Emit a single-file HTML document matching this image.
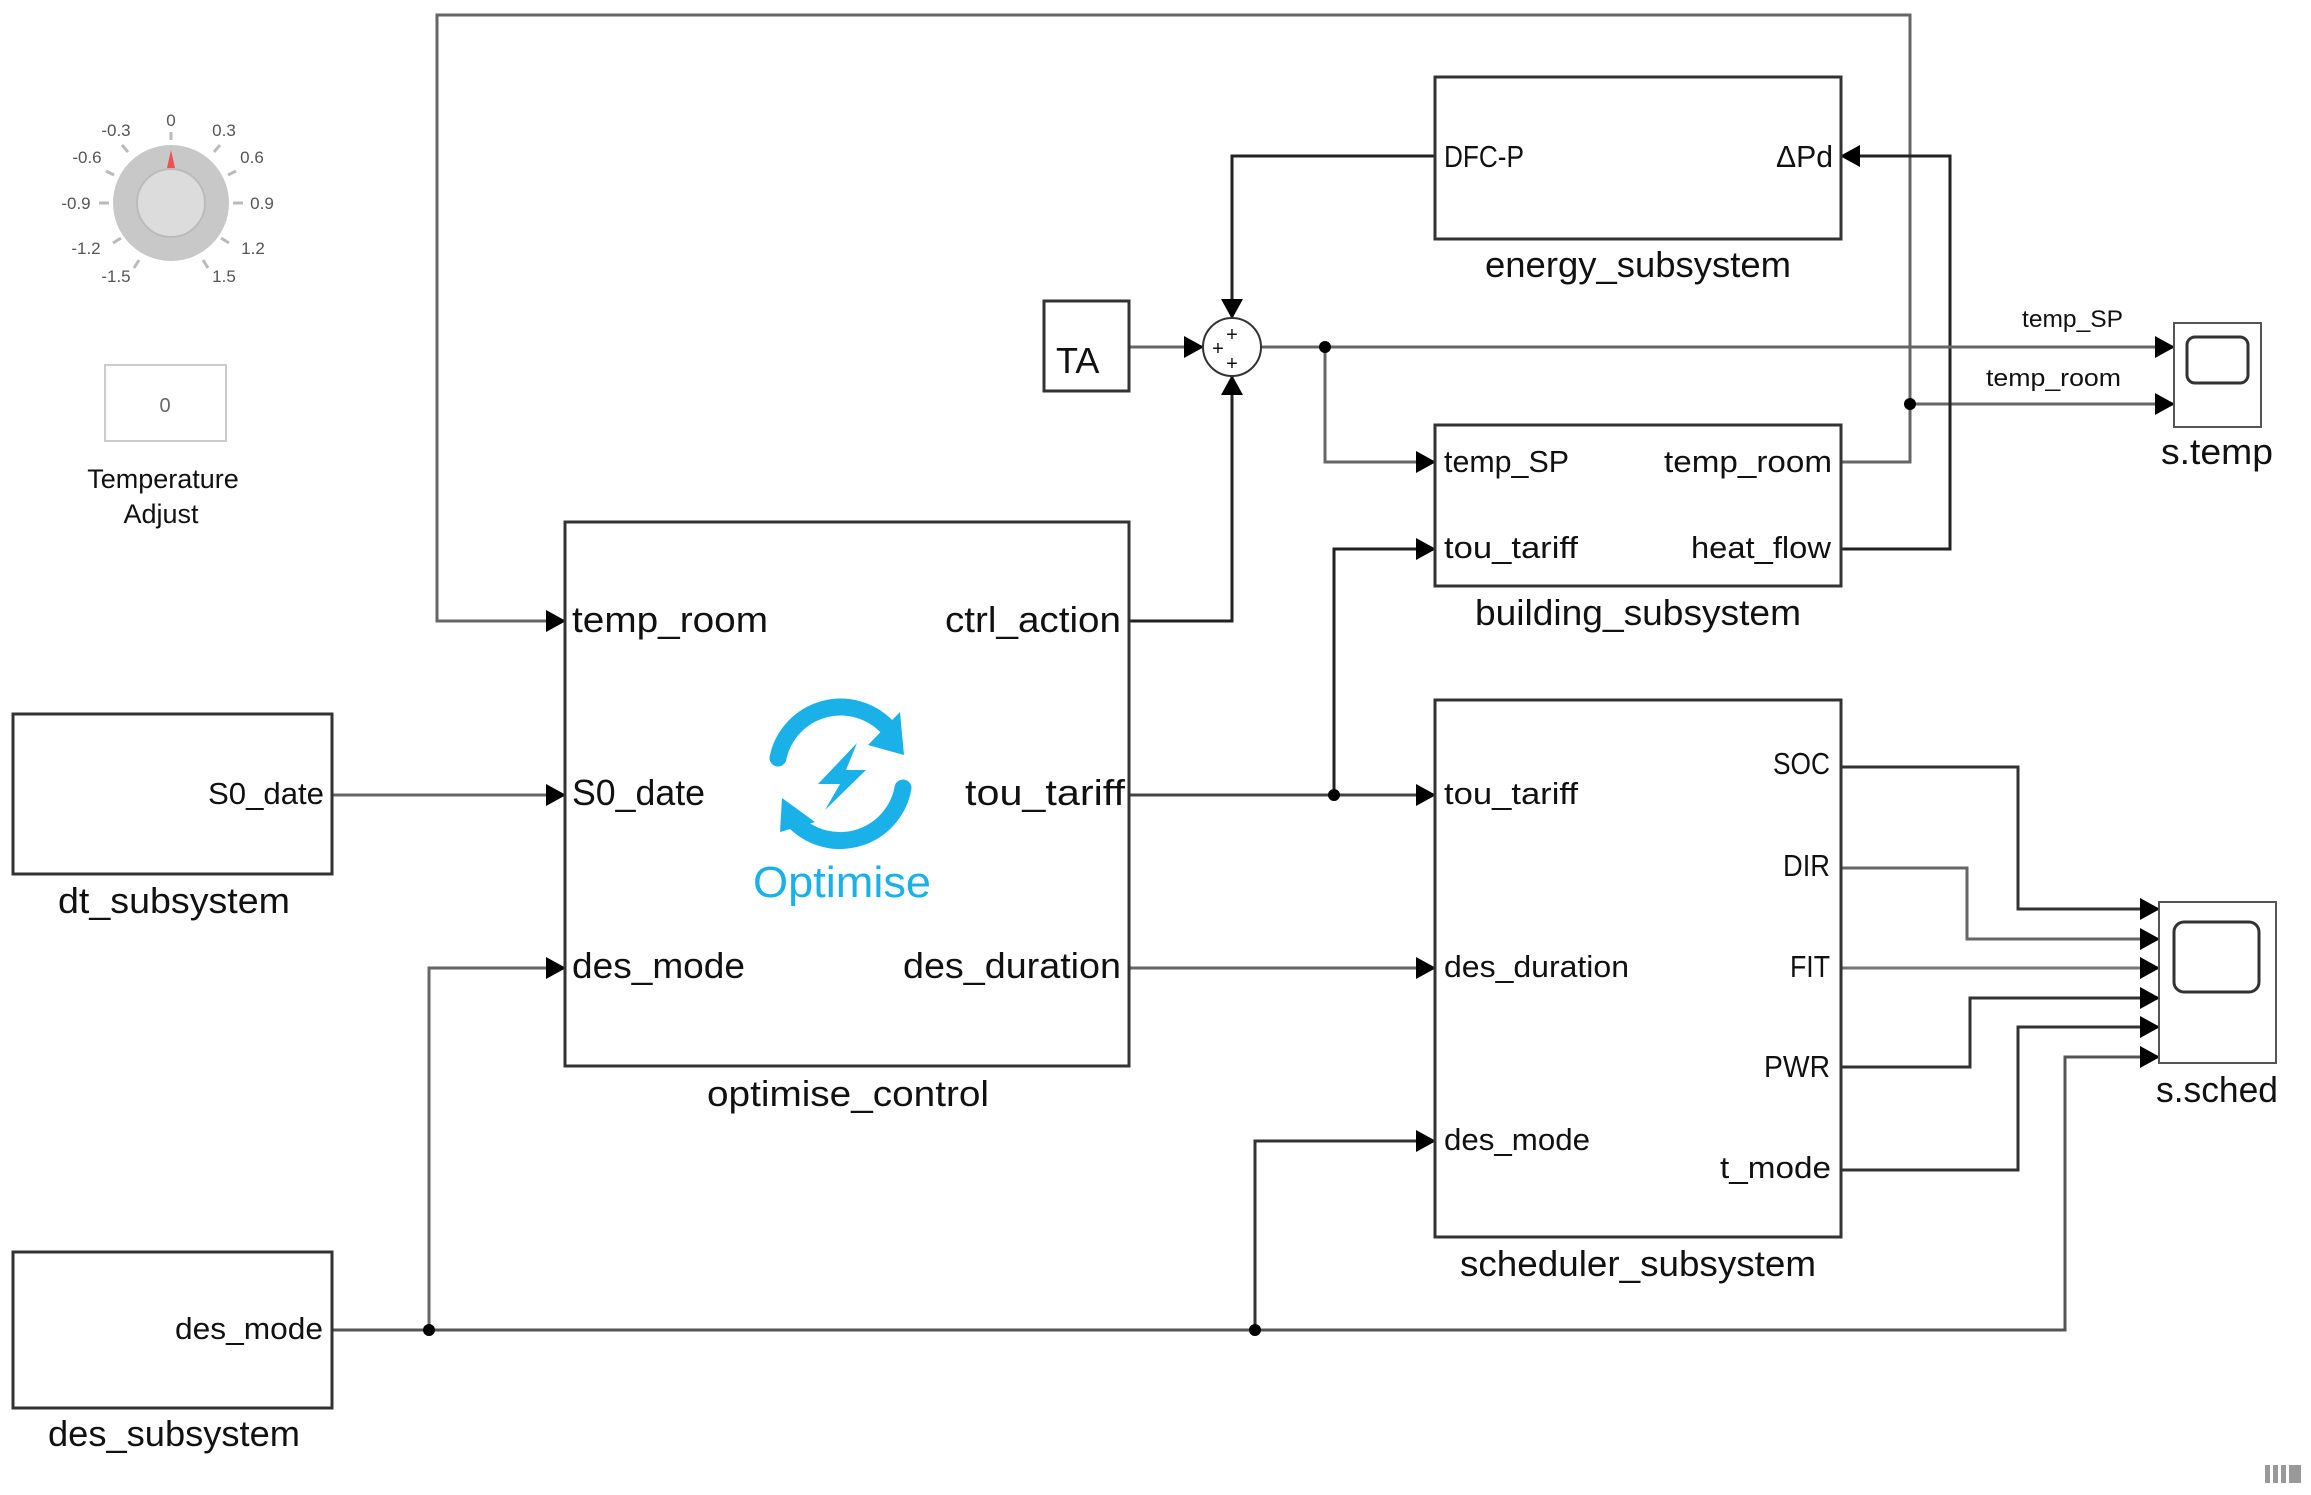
<!DOCTYPE html>
<html><head><meta charset="utf-8"><style>
html,body{margin:0;padding:0;background:#fff}
svg{display:block}
text{font-family:"Liberation Sans Narrow","Liberation Sans",sans-serif;fill:#111}
</style></head><body>
<svg width="2311" height="1495" viewBox="0 0 2311 1495" xmlns="http://www.w3.org/2000/svg">
<defs>
<marker id="a" markerWidth="20" markerHeight="22" refX="19" refY="11" orient="auto" markerUnits="userSpaceOnUse">
<path d="M0,0 L20,11 L0,22 Z" fill="#000"/></marker>
</defs>
<g fill="none" stroke-width="3">
<!-- top feedback temp_room -->
<path d="M1841,462 H1910 V15 H437 V621 H565" stroke="#666" marker-end="url(#a)"/>
<path d="M1910,404 H2174" stroke="#666" marker-end="url(#a)"/>
<!-- DFC-P to sum -->
<path d="M1435,156 H1232 V318" stroke="#222" marker-end="url(#a)"/>
<!-- heat_flow to dPd -->
<path d="M1841,549 H1950 V156 H1841" stroke="#222" marker-end="url(#a)"/>
<!-- TA to sum -->
<path d="M1129,347 H1203" stroke="#666" marker-end="url(#a)"/>
<!-- ctrl_action to sum -->
<path d="M1129,621 H1232 V376" stroke="#222" marker-end="url(#a)"/>
<!-- sum out -->
<path d="M1261,347 H2174" stroke="#666" marker-end="url(#a)"/>
<path d="M1325,347 V462 H1435" stroke="#666" marker-end="url(#a)"/>
<!-- S0_date -->
<path d="M332,795 H565" stroke="#666" marker-end="url(#a)"/>
<!-- tou_tariff -->
<path d="M1129,795 H1435" stroke="#444" marker-end="url(#a)"/>
<path d="M1334,795 V549 H1435" stroke="#222" marker-end="url(#a)"/>
<!-- des_duration -->
<path d="M1129,968 H1435" stroke="#666" marker-end="url(#a)"/>
<!-- des_mode bus -->
<path d="M332,1330 H2065 V1057 H2159" stroke="#555" marker-end="url(#a)"/>
<path d="M429,1330 V968 H565" stroke="#666" marker-end="url(#a)"/>
<path d="M1255,1330 V1141 H1435" stroke="#333" marker-end="url(#a)"/>
<!-- scheduler outputs -->
<path d="M1841,767 H2018 V909 H2159" stroke="#333" marker-end="url(#a)"/>
<path d="M1841,868 H1967 V939 H2159" stroke="#666" marker-end="url(#a)"/>
<path d="M1841,968 H2159" stroke="#777" marker-end="url(#a)"/>
<path d="M1841,1067 H1970 V998 H2159" stroke="#333" marker-end="url(#a)"/>
<path d="M1841,1170 H2018 V1027 H2159" stroke="#333" marker-end="url(#a)"/>
</g>
<g fill="#000">
<circle cx="1325" cy="347" r="6"/><circle cx="1910" cy="404" r="6"/>
<circle cx="1334" cy="795" r="6"/><circle cx="429" cy="1330" r="6"/><circle cx="1255" cy="1330" r="6"/>
</g>
<!-- blocks -->
<g fill="#fff" stroke="#333" stroke-width="3">
<rect x="1435" y="77" width="406" height="162"/>
<rect x="1435" y="425" width="406" height="161"/>
<rect x="1435" y="700" width="406" height="537"/>
<rect x="565" y="522" width="564" height="544"/>
<rect x="13" y="714" width="319" height="160"/>
<rect x="13" y="1252" width="319" height="156"/>
<rect x="1044" y="301" width="85" height="90"/>
<rect x="2174" y="323" width="87" height="104" stroke="#555" stroke-width="2"/>
<rect x="2159" y="902" width="117" height="161" stroke="#555" stroke-width="2"/>
<circle cx="1232" cy="347" r="29" stroke-width="2"/>
</g>
<rect x="2187" y="337" width="61" height="46" rx="8" fill="#fff" stroke="#333" stroke-width="3"/>
<rect x="2174" y="922" width="85" height="70" rx="10" fill="#fff" stroke="#333" stroke-width="3"/>
<g font-size="20" text-anchor="middle"><text x="1232" y="341">+</text><text x="1218" y="355">+</text><text x="1232" y="370">+</text></g>

<!-- knob -->
<g>
<circle cx="171" cy="203" r="58" fill="#c8c8c8"/>
<circle cx="171" cy="203" r="34" fill="#dcdcdc" stroke="#bbb" stroke-width="2"/>
<path d="M167,168 L171,150 L175,168 Z" fill="#f05050"/>
<g stroke="#bbb" stroke-width="3">
<line x1="171" y1="132" x2="171" y2="140"/><line x1="233" y1="203" x2="243" y2="203"/><line x1="99" y1="203" x2="109" y2="203"/>
<line x1="214" y1="152" x2="220" y2="145"/><line x1="128" y1="152" x2="122" y2="145"/>
<line x1="221" y1="238" x2="229" y2="243"/><line x1="121" y1="238" x2="113" y2="243"/>
<line x1="203" y1="260" x2="208" y2="268"/><line x1="139" y1="260" x2="134" y2="268"/>
<line x1="228" y1="175" x2="236" y2="171"/><line x1="114" y1="175" x2="106" y2="171"/>
</g>
<g font-family="Liberation Sans" font-size="17" fill="#555" text-anchor="middle">
<text x="171" y="126" style="fill:#555">0</text>
<text x="116" y="136" style="fill:#555">-0.3</text><text x="224" y="136" style="fill:#555">0.3</text>
<text x="87" y="163" style="fill:#555">-0.6</text><text x="252" y="163" style="fill:#555">0.6</text>
<text x="76" y="209" style="fill:#555">-0.9</text><text x="262" y="209" style="fill:#555">0.9</text>
<text x="86" y="254" style="fill:#555">-1.2</text><text x="253" y="254" style="fill:#555">1.2</text>
<text x="116" y="282" style="fill:#555">-1.5</text><text x="224" y="282" style="fill:#555">1.5</text>
</g>
</g>
<rect x="105" y="365" width="121" height="76" fill="#fff" stroke="#ccc" stroke-width="2"/>
<text x="165" y="412" font-family="Liberation Sans" font-size="20" text-anchor="middle" style="fill:#666">0</text>
<g font-family="Liberation Sans" font-size="27" text-anchor="middle"><text x="163" y="488">Temperature</text><text x="161" y="523">Adjust</text></g>

<!-- optimise icon -->
<g fill="none" stroke="#1ab0e8" stroke-width="17" stroke-linecap="round">
<path d="M778,758 A64,64 0 0 1 888,728"/>
<path d="M903,788 A64,64 0 0 1 795,822"/>
</g>
<path d="M900,712 L904,755 L868,745 Z" fill="#1ab0e8"/>
<path d="M782,798 L780,832 L815,822 Z" fill="#1ab0e8"/>
<path d="M857,743 L818,784 L840,784 L825,810 L866,770 L846,770 Z" fill="#1ab0e8"/>
<text x="842" y="897" font-family="Liberation Sans" font-size="44" text-anchor="middle" style="fill:#1ab0e8" textLength="178" lengthAdjust="spacingAndGlyphs">Optimise</text>

<!-- optimise ports -->
<g font-size="36">
<text x="572" y="632" textLength="196" lengthAdjust="spacingAndGlyphs">temp_room</text>
<text x="945" y="632" textLength="176" lengthAdjust="spacingAndGlyphs">ctrl_action</text>
<text x="572" y="805" textLength="133" lengthAdjust="spacingAndGlyphs">S0_date</text>
<text x="965" y="805" textLength="160" lengthAdjust="spacingAndGlyphs">tou_tariff</text>
<text x="572" y="978" textLength="173" lengthAdjust="spacingAndGlyphs">des_mode</text>
<text x="903" y="978" textLength="218" lengthAdjust="spacingAndGlyphs">des_duration</text>
<text x="1056" y="373">TA</text>
</g>
<!-- subsystem ports -->
<g font-size="31">
<text x="1444" y="167" textLength="80" lengthAdjust="spacingAndGlyphs">DFC-P</text>
<text x="1776" y="167" textLength="57" lengthAdjust="spacingAndGlyphs">ΔPd</text>
<text x="1444" y="472" textLength="125" lengthAdjust="spacingAndGlyphs">temp_SP</text>
<text x="1664" y="472" textLength="168" lengthAdjust="spacingAndGlyphs">temp_room</text>
<text x="1444" y="558" textLength="134" lengthAdjust="spacingAndGlyphs">tou_tariff</text>
<text x="1691" y="558" textLength="140" lengthAdjust="spacingAndGlyphs">heat_flow</text>
<text x="1444" y="804" textLength="134" lengthAdjust="spacingAndGlyphs">tou_tariff</text>
<text x="1444" y="977" textLength="185" lengthAdjust="spacingAndGlyphs">des_duration</text>
<text x="1444" y="1150" textLength="146" lengthAdjust="spacingAndGlyphs">des_mode</text>
<text x="1773" y="774" textLength="57" lengthAdjust="spacingAndGlyphs">SOC</text>
<text x="1783" y="876" textLength="47" lengthAdjust="spacingAndGlyphs">DIR</text>
<text x="1790" y="977" textLength="40" lengthAdjust="spacingAndGlyphs">FIT</text>
<text x="1764" y="1077" textLength="66" lengthAdjust="spacingAndGlyphs">PWR</text>
<text x="1720" y="1178" textLength="111" lengthAdjust="spacingAndGlyphs">t_mode</text>
<text x="208" y="804" textLength="116" lengthAdjust="spacingAndGlyphs">S0_date</text>
<text x="175" y="1339" textLength="148" lengthAdjust="spacingAndGlyphs">des_mode</text>
</g>
<g font-size="24">
<text x="2022" y="327" textLength="101" lengthAdjust="spacingAndGlyphs">temp_SP</text>
<text x="1986" y="386" textLength="135" lengthAdjust="spacingAndGlyphs">temp_room</text>
</g>
<!-- block labels -->
<g font-size="36" text-anchor="middle">
<text x="1638" y="277" textLength="306" lengthAdjust="spacingAndGlyphs">energy_subsystem</text>
<text x="1638" y="625" textLength="326" lengthAdjust="spacingAndGlyphs">building_subsystem</text>
<text x="1638" y="1276" textLength="356" lengthAdjust="spacingAndGlyphs">scheduler_subsystem</text>
<text x="848" y="1106" textLength="282" lengthAdjust="spacingAndGlyphs">optimise_control</text>
<text x="174" y="913" textLength="232" lengthAdjust="spacingAndGlyphs">dt_subsystem</text>
<text x="174" y="1446" textLength="252" lengthAdjust="spacingAndGlyphs">des_subsystem</text>
<text x="2217" y="464" textLength="112" lengthAdjust="spacingAndGlyphs">s.temp</text>
<text x="2217" y="1102" textLength="122" lengthAdjust="spacingAndGlyphs">s.sched</text>
</g>
<g fill="#999"><rect x="2265" y="1465" width="5" height="18"/><rect x="2273" y="1465" width="5" height="18"/><rect x="2281" y="1465" width="5" height="18"/><rect x="2289" y="1465" width="12" height="18"/></g>
</svg>
</body></html>
